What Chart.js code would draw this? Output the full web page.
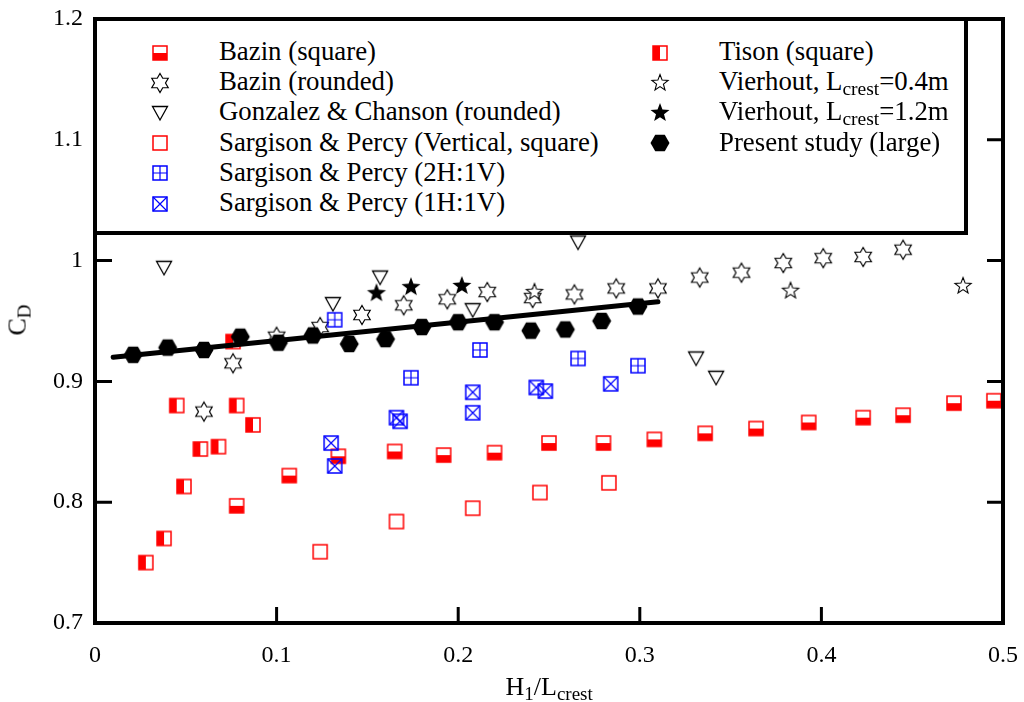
<!DOCTYPE html>
<html lang="en">
<head>
  <meta charset="UTF-8">
  <title>Discharge coefficient vs H1/Lcrest</title>
  <script src="https://cdn.jsdelivr.net/npm/chart.js"></script>
  <style>
    body {
      margin: 0;
      background: white;
      font-family: "Liberation Serif", "Times New Roman", serif;
    }
    #wrap {
      position: relative;
      width: 1024px;
      height: 702px;
    }
    #chart { position: absolute; left: 0; top: 0; }
    .legend-box {
      position: absolute;
      left: 93px;
      top: 17px;
      width: 875px;
      height: 218px;
      box-sizing: border-box;
      border: 4px solid black;
      background: white;
    }
    .legend-text {
      position: absolute;
      font-size: 26.8px;
      line-height: 30px;
      white-space: nowrap;
      color: black;
    }
    .legend-marker { position: absolute; }
    .sub { font-size: 19.5px; position: relative; top: 5px; }
    .axis-title {
      position: absolute;
      font-size: 26px;
      line-height: 26px;
      white-space: nowrap;
    }
  </style>
</head>
<body>
  <div id="wrap">
    <canvas id="chart" width="1024" height="702"></canvas>
    <div class="legend-box"></div>
    <div id="legend"></div>
    <div class="axis-title" id="xTitle">H<span class="sub" style="font-size:19px">1</span>/L<span class="sub" style="font-size:19px">crest</span></div>
    <div class="axis-title" id="yTitle">C<span class="sub" style="font-size:19px">D</span></div>
  </div>

  <script>
    // Bazin (square)
    const bazinSqX = [0.078, 0.107, 0.134, 0.165, 0.192, 0.220, 0.250, 0.280, 0.308, 0.336, 0.364, 0.393, 0.423, 0.445, 0.473, 0.495];
    const bazinSqY = [0.797, 0.822, 0.838, 0.842, 0.839, 0.841, 0.849, 0.849, 0.852, 0.857, 0.861, 0.866, 0.870, 0.872, 0.882, 0.884];
    // Tison (square)
    const tisonX = [0.028, 0.038, 0.045, 0.049, 0.058, 0.068, 0.076, 0.078, 0.087];
    const tisonY = [0.750, 0.770, 0.880, 0.813, 0.844, 0.846, 0.933, 0.880, 0.864];
    // Sargison & Percy (Vertical, square)
    const spVertX = [0.124, 0.166, 0.208, 0.245, 0.283];
    const spVertY = [0.759, 0.784, 0.795, 0.808, 0.816];
    // Sargison & Percy (2H:1V)
    const sp2hX = [0.132, 0.174, 0.212, 0.266, 0.299];
    const sp2hY = [0.951, 0.903, 0.926, 0.919, 0.913];
    // Sargison & Percy (1H:1V)
    const sp1hX = [0.130, 0.132, 0.166, 0.168, 0.208, 0.208, 0.243, 0.248, 0.284];
    const sp1hY = [0.849, 0.830, 0.870, 0.867, 0.891, 0.874, 0.895, 0.892, 0.898];
    // Bazin (rounded)
    const bazinRdX = [0.060, 0.076, 0.100, 0.124, 0.147, 0.170, 0.194, 0.216, 0.241, 0.264, 0.287, 0.310, 0.333, 0.356, 0.379, 0.401, 0.423, 0.445];
    const bazinRdY = [0.875, 0.915, 0.937, 0.945, 0.955, 0.963, 0.968, 0.974, 0.969, 0.972, 0.977, 0.977, 0.986, 0.990, 0.998, 1.002, 1.003, 1.009];
    // Vierhout, Lcrest=0.4m
    const vier04X = [0.242, 0.383, 0.478];
    const vier04Y = [0.974, 0.975, 0.979];
    // Vierhout, Lcrest=1.2m
    const vier12X = [0.155, 0.174, 0.202];
    const vier12Y = [0.973, 0.978, 0.979];
    // Gonzalez & Chanson (rounded)
    const gonzX = [0.038, 0.131, 0.157, 0.208, 0.266, 0.331, 0.342];
    const gonzY = [0.994, 0.964, 0.986, 0.959, 1.015, 0.919, 0.903];
    // Present study (large)
    const presentX = [0.021, 0.040, 0.060, 0.080, 0.101, 0.120, 0.140, 0.160, 0.180, 0.200, 0.220, 0.240, 0.259, 0.279, 0.299];
    const presentY = [0.922, 0.928, 0.926, 0.937, 0.932, 0.938, 0.931, 0.935, 0.945, 0.949, 0.949, 0.942, 0.943, 0.950, 0.962];
    // trend line through present study
    const fitX = [0.01, 0.31];
    const fitY = [0.920, 0.966];

    const xTicks = [0, 0.1, 0.2, 0.3, 0.4, 0.5];
    const yTicks = [0.7, 0.8, 0.9, 1.0, 1.1, 1.2];

    const RED = '#ff0000';
    const BLUE = '#0000ff';

    function pts(xs, ys) {
      return xs.map((x, i) => ({ x: x, y: ys[i] }));
    }

    function makeMarker(draw) {
      const c = document.createElement('canvas');
      c.width = 26;
      c.height = 26;
      const g = c.getContext('2d');
      g.translate(13, 13);
      g.lineJoin = 'miter';
      draw(g);
      return c;
    }

    function starPath(g, n, R, r) {
      g.beginPath();
      for (let i = 0; i < n * 2; i++) {
        const rad = i % 2 === 0 ? R : r;
        const a = -Math.PI / 2 + i * Math.PI / n;
        const px = rad * Math.cos(a), py = rad * Math.sin(a);
        if (i === 0) g.moveTo(px, py); else g.lineTo(px, py);
      }
      g.closePath();
    }

    const S = 7;
    const markers = {
      bazinSq: makeMarker(g => {
        g.fillStyle = RED; g.fillRect(-S, 0, 2 * S, S);
        g.strokeStyle = RED; g.lineWidth = 1.5; g.strokeRect(-S, -S, 2 * S, 2 * S);
      }),
      tison: makeMarker(g => {
        g.fillStyle = RED; g.fillRect(-S, -S, S, 2 * S);
        g.strokeStyle = RED; g.lineWidth = 1.5; g.strokeRect(-S, -S, 2 * S, 2 * S);
      }),
      spVert: makeMarker(g => {
        g.strokeStyle = RED; g.lineWidth = 1.5; g.strokeRect(-S, -S, 2 * S, 2 * S);
      }),
      sp2h: makeMarker(g => {
        g.strokeStyle = BLUE; g.lineWidth = 1.5; g.strokeRect(-S, -S, 2 * S, 2 * S);
        g.lineWidth = 1.2;
        g.beginPath(); g.moveTo(0, -S); g.lineTo(0, S); g.moveTo(-S, 0); g.lineTo(S, 0); g.stroke();
      }),
      sp1h: makeMarker(g => {
        g.strokeStyle = BLUE; g.lineWidth = 1.5; g.strokeRect(-S, -S, 2 * S, 2 * S);
        g.lineWidth = 1.2;
        g.beginPath(); g.moveTo(-S, -S); g.lineTo(S, S); g.moveTo(S, -S); g.lineTo(-S, S); g.stroke();
      }),
      bazinRd: makeMarker(g => {
        starPath(g, 6, 9.5, 5.5);
        g.fillStyle = 'white'; g.fill();
        g.strokeStyle = 'black'; g.lineWidth = 1.2; g.stroke();
      }),
      vier04: makeMarker(g => {
        starPath(g, 5, 8.5, 3.6);
        g.fillStyle = 'white'; g.fill();
        g.strokeStyle = 'black'; g.lineWidth = 1.1; g.stroke();
      }),
      vier12: makeMarker(g => {
        starPath(g, 5, 10, 4.2);
        g.fillStyle = 'black'; g.fill();
      }),
      gonz: makeMarker(g => {
        g.beginPath(); g.moveTo(-7.5, -6.5); g.lineTo(7.5, -6.5); g.lineTo(0, 7); g.closePath();
        g.fillStyle = 'white'; g.fill();
        g.strokeStyle = 'black'; g.lineWidth = 1.3; g.stroke();
      }),
      present: makeMarker(g => {
        g.beginPath();
        for (let i = 0; i < 6; i++) {
          const a = i * Math.PI / 3;
          const px = 9.5 * Math.cos(a), py = 9.5 * Math.sin(a);
          if (i === 0) g.moveTo(px, py); else g.lineTo(px, py);
        }
        g.closePath();
        g.fillStyle = 'black'; g.fill();
      })
    };

    function scatterSet(label, xs, ys, marker, order) {
      return {
        label: label,
        data: pts(xs, ys),
        pointStyle: marker,
        pointRadius: 8,
        showLine: false,
        order: order
      };
    }

    // inward ticks and heavy frame
    const framePlugin = {
      id: 'frame',
      afterDatasetsDraw(chart) {
        const ctx = chart.ctx;
        const { left, right, top, bottom } = chart.chartArea;
        const xs = chart.scales.x, ys = chart.scales.y;
        ctx.save();
        ctx.strokeStyle = 'black';
        ctx.lineWidth = 3;
        xTicks.slice(1, -1).forEach(v => {
          const p = xs.getPixelForValue(v);
          ctx.beginPath();
          ctx.moveTo(p, bottom); ctx.lineTo(p, bottom - 16);
          ctx.moveTo(p, top); ctx.lineTo(p, top + 16);
          ctx.stroke();
        });
        yTicks.slice(1, -1).forEach(v => {
          const p = ys.getPixelForValue(v);
          ctx.beginPath();
          ctx.moveTo(left, p); ctx.lineTo(left + 17, p);
          ctx.moveTo(right, p); ctx.lineTo(right - 16, p);
          ctx.stroke();
        });
        ctx.lineWidth = 4;
        ctx.strokeRect(left, top, right - left, bottom - top);
        ctx.restore();
      }
    };

    const ctx = document.getElementById('chart').getContext('2d');
    const chart = new Chart(ctx, {
      type: 'scatter',
      data: {
        datasets: [
          {
            type: 'line',
            label: 'fit',
            data: pts(fitX, fitY),
            borderColor: 'black',
            borderWidth: 5,
            borderCapStyle: 'round',
            pointRadius: 0,
            fill: false,
            order: 2
          },
          scatterSet('Present study (large)', presentX, presentY, markers.present, 1),
          scatterSet('Sargison & Percy (1H:1V)', sp1hX, sp1hY, markers.sp1h, 3),
          scatterSet('Sargison & Percy (2H:1V)', sp2hX, sp2hY, markers.sp2h, 4),
          scatterSet('Gonzalez & Chanson (rounded)', gonzX, gonzY, markers.gonz, 5),
          scatterSet('Vierhout, Lcrest=1.2m', vier12X, vier12Y, markers.vier12, 6),
          scatterSet('Vierhout, Lcrest=0.4m', vier04X, vier04Y, markers.vier04, 7),
          scatterSet('Bazin (rounded)', bazinRdX, bazinRdY, markers.bazinRd, 8),
          scatterSet('Sargison & Percy (Vertical, square)', spVertX, spVertY, markers.spVert, 9),
          scatterSet('Tison (square)', tisonX, tisonY, markers.tison, 10),
          scatterSet('Bazin (square)', bazinSqX, bazinSqY, markers.bazinSq, 11)
        ]
      },
      options: {
        responsive: false,
        animation: false,
        layout: { padding: { left: 0, top: 19, right: 21, bottom: 0 } },
        plugins: {
          legend: { display: false },
          tooltip: { enabled: false }
        },
        scales: {
          x: {
            type: 'linear',
            min: 0,
            max: 0.5,
            afterBuildTicks: (scale) => { scale.ticks = xTicks.map(v => ({ value: v })); },
            afterFit: (scale) => {
              scale.height = 79;
              scale.paddingLeft = 0;
              scale.paddingRight = 0;
            },
            grid: { display: false, drawTicks: false },
            border: { display: false },
            ticks: {
              color: 'black',
              padding: 18,
              maxRotation: 0,
              font: { family: '"Liberation Serif", "Times New Roman", serif', size: 24 },
              callback: (v) => String(Math.round(v * 10) / 10)
            }
          },
          y: {
            type: 'linear',
            min: 0.7,
            max: 1.2,
            afterBuildTicks: (scale) => { scale.ticks = yTicks.map(v => ({ value: v })); },
            afterFit: (scale) => {
              scale.width = 95;
              scale.paddingTop = 0;
              scale.paddingBottom = 0;
            },
            grid: { display: false, drawTicks: false },
            border: { display: false },
            ticks: {
              color: 'black',
              padding: 12,
              font: { family: '"Liberation Serif", "Times New Roman", serif', size: 24 },
              callback: (v) => String(Math.round(v * 10) / 10)
            }
          }
        }
      },
      plugins: [framePlugin]
    });

    // custom legend (two columns, drawn over the top of the plot area)
    const legendLeft = [
      ['Bazin (square)', markers.bazinSq],
      ['Bazin (rounded)', markers.bazinRd],
      ['Gonzalez &amp; Chanson (rounded)', markers.gonz],
      ['Sargison &amp; Percy (Vertical, square)', markers.spVert],
      ['Sargison &amp; Percy (2H:1V)', markers.sp2h],
      ['Sargison &amp; Percy (1H:1V)', markers.sp1h]
    ];
    const legendRight = [
      ['Tison (square)', markers.tison],
      ['Vierhout, L<span class="sub">crest</span>=0.4m', markers.vier04],
      ['Vierhout, L<span class="sub">crest</span>=1.2m', markers.vier12],
      ['Present study (large)', markers.present]
    ];

    function createCustomLegend(items, markerX, textX) {
      const box = document.getElementById('legend');
      items.forEach(([html, marker], i) => {
        const baseline = 60 + i * 30.2;
        const m = document.createElement('canvas');
        m.width = marker.width;
        m.height = marker.height;
        m.getContext('2d').drawImage(marker, 0, 0);
        m.className = 'legend-marker';
        m.style.left = (markerX - marker.width / 2) + 'px';
        m.style.top = (baseline - 7.5 - marker.height / 2) + 'px';
        box.appendChild(m);

        const t = document.createElement('div');
        t.className = 'legend-text';
        t.innerHTML = html;
        t.style.left = textX + 'px';
        t.style.top = (baseline - 24) + 'px';
        box.appendChild(t);
      });
    }
    createCustomLegend(legendLeft, 160, 219);
    createCustomLegend(legendRight, 660, 719);

    // axis titles
    const xTitle = document.getElementById('xTitle');
    xTitle.style.left = (549 - xTitle.offsetWidth / 2) + 'px';
    xTitle.style.top = '674px';
    const yTitle = document.getElementById('yTitle');
    yTitle.style.left = (18 - yTitle.offsetWidth / 2) + 'px';
    yTitle.style.top = (320 - yTitle.offsetHeight / 2) + 'px';
    yTitle.style.transform = 'rotate(-90deg)';
  </script>
</body>
</html>
